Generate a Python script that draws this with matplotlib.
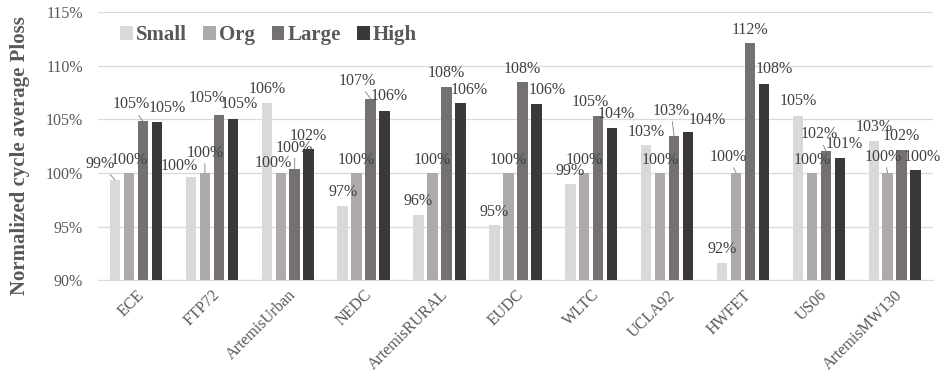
import matplotlib
matplotlib.use("Agg")
import matplotlib.pyplot as plt
import numpy as np

categories = ["ECE", "FTP72", "ArtemisUrban", "NEDC", "ArtemisRURAL", "EUDC",
              "WLTC", "UCLA92", "HWFET", "US06", "ArtemisMW130"]
series_names = ["Small", "Org", "Large", "High"]
small = [99.35, 99.6, 106.5, 96.95, 96.1, 95.1, 98.95, 102.6, 91.55, 105.35, 103.0]
org = [100, 100, 100, 100, 100, 100, 100, 100, 100, 100, 100]
large = [104.8, 105.4, 100.4, 106.9, 108.0, 108.5, 105.35, 103.45, 112.1, 102.0, 102.1]
high = [104.75, 105.0, 102.25, 105.75, 106.5, 106.4, 104.2, 103.85, 108.25, 101.4, 100.3]
yticks = [90, 95, 100, 105, 110, 115]

# label placement (pixel offsets of label centre from bar top, leader line flag)
label_layout = {
    "Small": [(-15, 16, True), (-11.5, 11, False), (0, 14, False), (0, 14, False), (0, 14, False),
              (0, 13, False), (0, 13, False), (0, 13, False), (0, 14, False), (0, 14.5, False), (0, 14, False)],
    "Org": [(0, 13, False), (0, 20, True), (-7, 10, False), (0, 13, False), (0, 13, False),
            (0, 13, False), (0, 13, False), (0, 13, False), (-7.5, 16, True), (0, 13, False), (-4, 16, True)],
    "Large": [(-12, 17, True), (-12, 17, False), (0, 21, True), (-13, 18, True), (0, 14, False),
              (0, 13, False), (-8, 14, False), (-3, 25, True), (0, 13, False), (-6.5, 17, True), (0, 14, False)],
    "High": [(10, 14, False), (6, 15, False), (0, 13, False), (5, 15, False), (9, 13, False),
             (11, 14, False), (4, 14, False), (19, 12, False), (10, 15, False), (5, 14, False), (7, 13, False)],
}

colors = ["#d9d9d9", "#aeaaaa", "#767171", "#3a3838"]
plt.rcParams['font.family'] = ['Liberation Serif', 'DejaVu Serif']

fig = plt.figure(figsize=(9.43, 3.76), dpi=100)
ax = fig.add_axes([0.104, 0.255, 0.885, 0.713])

x = np.arange(len(categories))
width = 0.138
pitch = 0.184
data = [small, org, large, high]
px2pt = 0.72
for i, (name, vals, c) in enumerate(zip(series_names, data, colors)):
    pos = x + (i - 1.5) * pitch
    ax.bar(pos, np.array(vals) - 90, width=width, bottom=90, color=c, label=name, zorder=3)
    for xp, v, (dx, dy, lead) in zip(pos, vals, label_layout[name]):
        kw = {}
        if lead:
            kw["arrowprops"] = dict(arrowstyle="-", color="#7f7f7f", lw=0.6,
                                    shrinkA=0, shrinkB=0)
        ax.annotate(f"{round(v):.0f}%", xy=(xp, v), xytext=(dx * px2pt, dy * px2pt),
                    textcoords="offset points", ha="center", va="center",
                    fontsize=11.5, color="#404040", zorder=4, **kw)

ax.set_ylim(90, 115)
ax.set_xlim(-0.5, len(categories) - 0.5)
ax.set_yticks(yticks)
ax.set_yticklabels([f"{t}%" for t in yticks], fontsize=11.5, color="#595959")
ax.set_xticks(x)
ax.set_xticklabels(categories, rotation=45, ha="right", rotation_mode="anchor",
                   fontsize=11.5, color="#595959")
ax.tick_params(axis="y", length=0, pad=11)
ax.tick_params(axis="x", length=0, pad=5)
ax.grid(axis="y", color="#d9d9d9", linewidth=0.9, zorder=0)
for s in ["top", "right", "left"]:
    ax.spines[s].set_visible(False)
ax.spines["bottom"].set_color("#d9d9d9")
ax.set_ylabel("Normalized cycle average Ploss", fontsize=15, fontweight="bold", color="#595959")
ax.yaxis.set_label_coords(-0.081, 0.466)

leg = ax.legend(loc="upper left", ncol=4, frameon=False, bbox_to_anchor=(0.004, 1.02),
                prop={"weight": "bold", "size": 15}, handlelength=0.6, handleheight=0.6,
                handletextpad=0.15, columnspacing=0.8, labelcolor="#595959")

fig.savefig("out.png", dpi=100)
